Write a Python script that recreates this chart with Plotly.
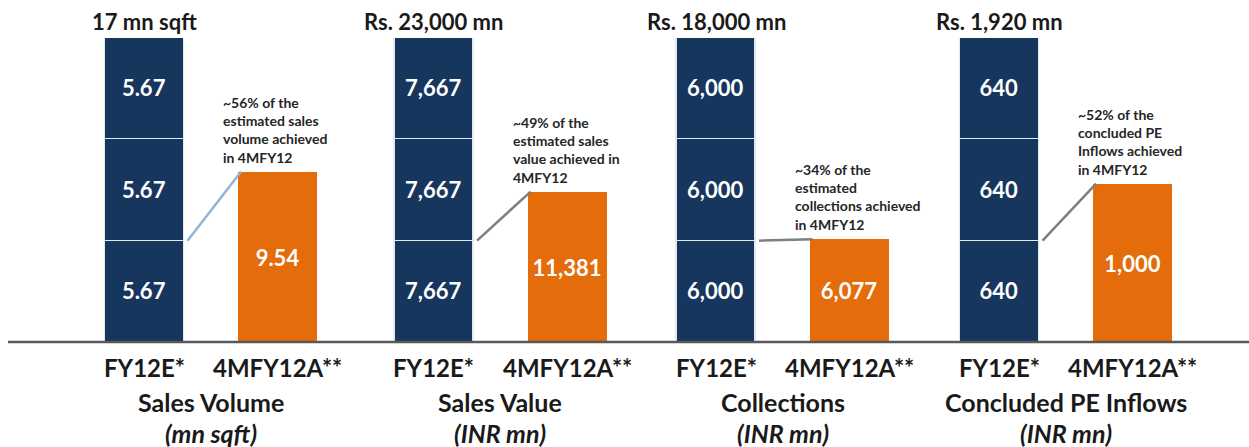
import plotly.graph_objects as go

# ---------------- data ----------------
categories = ["FY12E*", "4MFY12A**"]
metrics = ["Sales Volume", "Sales Value", "Collections", "Concluded PE Inflows"]
units = ["(mn sqft)", "(INR mn)", "(INR mn)", "(INR mn)"]
estimate_totals_text = ["17 mn sqft", "Rs. 23,000 mn", "Rs. 18,000 mn", "Rs. 1,920 mn"]
seg_bottom = [5.67, 7667, 6000, 640]
seg_middle = [5.67, 7667, 6000, 640]
seg_top = [5.67, 7667, 6000, 640]
seg_labels = ["5.67", "7,667", "6,000", "640"]
actuals = [9.54, 11381, 6077, 1000]
actual_labels = ["9.54", "11,381", "6,077", "1,000"]
notes = [
    "~56% of the<br>estimated sales<br>volume achieved<br>in 4MFY12",
    "~49% of the<br>estimated sales<br>value achieved in<br>4MFY12",
    "~34% of the<br>estimated<br>collections achieved<br>in 4MFY12",
    "~52% of the<br>concluded PE<br>Inflows achieved<br>in 4MFY12",
]
connector_colors = ["#95B3D7", "#7F7F7F", "#7F7F7F", "#7F7F7F"]

# ---------------- style ----------------
W, H = 1249, 447
NAVY = "#17365D"
ORANGE = "#E46C0A"
FONT = "Lato"
BAR_W = 0.587
panel_centers_px = [211, 500.5, 782.5, 1066]
half_px = 133

fig = go.Figure()
for i in range(4):
    xa = "x" if i == 0 else f"x{i+1}"
    ya = "y" if i == 0 else f"y{i+1}"
    for vals in (seg_bottom, seg_middle, seg_top):
        fig.add_trace(go.Bar(
            x=[0], y=[vals[i]], xaxis=xa, yaxis=ya, width=BAR_W,
            marker=dict(color=NAVY, line=dict(color="#E3E9F1", width=1.5)),
            text=[seg_labels[i]], textposition="inside", insidetextanchor="middle",
            textangle=0, constraintext="none",
            textfont=dict(color="white", size=22, family=FONT, weight="bold"),
            showlegend=False, hoverinfo="skip",
        ))
    fig.add_trace(go.Bar(
        x=[1], y=[actuals[i]], xaxis=xa, yaxis=ya, width=BAR_W,
        marker=dict(color=ORANGE, line=dict(width=0)),
        text=[actual_labels[i]], textposition="inside", insidetextanchor="middle",
        textangle=0, constraintext="none",
        textfont=dict(color="white", size=22, family=FONT, weight="bold"),
        showlegend=False, hoverinfo="skip",
    ))
    total = seg_bottom[i] + seg_middle[i] + seg_top[i]
    c = panel_centers_px[i]
    dom = [(c - half_px) / W, (c + half_px) / W]
    axn = "" if i == 0 else str(i + 1)
    fig.layout["xaxis" + axn] = dict(domain=dom, range=[-0.5, 1.5], visible=False,
                                     anchor=ya, fixedrange=True)
    fig.layout["yaxis" + axn] = dict(domain=[0, 1], range=[0, total], visible=False,
                                     anchor=xa, fixedrange=True)

    # connector line
    fig.add_shape(type="line", xref=xa, yref=ya,
                  x0=BAR_W / 2 + 0.03, y0=seg_bottom[i],
                  x1=1 - BAR_W / 2 + 0.02, y1=actuals[i],
                  line=dict(color=connector_colors[i], width=2.5))
    # total label on top
    fig.add_annotation(xref=xa, yref=ya, x=0, y=total, text=estimate_totals_text[i],
                       showarrow=False, yanchor="bottom", yshift=1,
                       font=dict(size=22, family=FONT, color="#1A1A1A", weight="bold"))
    # note above orange bar
    fig.add_annotation(xref=xa, yref=ya, x=1 - BAR_W / 2 - 0.13, y=actuals[i],
                       text=notes[i], showarrow=False, xanchor="left", yanchor="bottom",
                       align="left", yshift=4,
                       font=dict(size=14, family=FONT, color="#262626", weight="bold"))
    # category labels
    for j, cat in enumerate(categories):
        fig.add_annotation(xref=xa, yref="paper", x=j, y=0, text=cat, showarrow=False,
                           yanchor="middle", yshift=-25,
                           font=dict(size=24, family=FONT, color="#1A1A1A", weight="bold"))
    # metric + units
    fig.add_annotation(xref=xa + " domain", yref="paper", x=0.5, y=0, text=metrics[i],
                       showarrow=False, yanchor="middle", yshift=-60,
                       font=dict(size=25, family=FONT, color="#1A1A1A", weight="bold"))
    fig.add_annotation(xref=xa + " domain", yref="paper", x=0.5, y=0, text=units[i],
                       showarrow=False, yanchor="middle", yshift=-91,
                       font=dict(size=25, family=FONT, color="#1A1A1A", weight="bold",
                                 style="italic"))

# baseline
fig.add_shape(type="line", xref="paper", yref="paper", x0=8 / W, x1=1, y0=0, y1=0,
              line=dict(color="#595959", width=2.5))

fig.update_layout(
    width=W, height=H, barmode="stack", bargap=0,
    margin=dict(l=0, r=0, t=38, b=105),
    paper_bgcolor="white", plot_bgcolor="white",
    showlegend=False,
)
fig.write_html("out.html", config={"displayModeBar": False},
               post_script="document.body.style.margin='0';document.body.style.overflow='hidden';")
